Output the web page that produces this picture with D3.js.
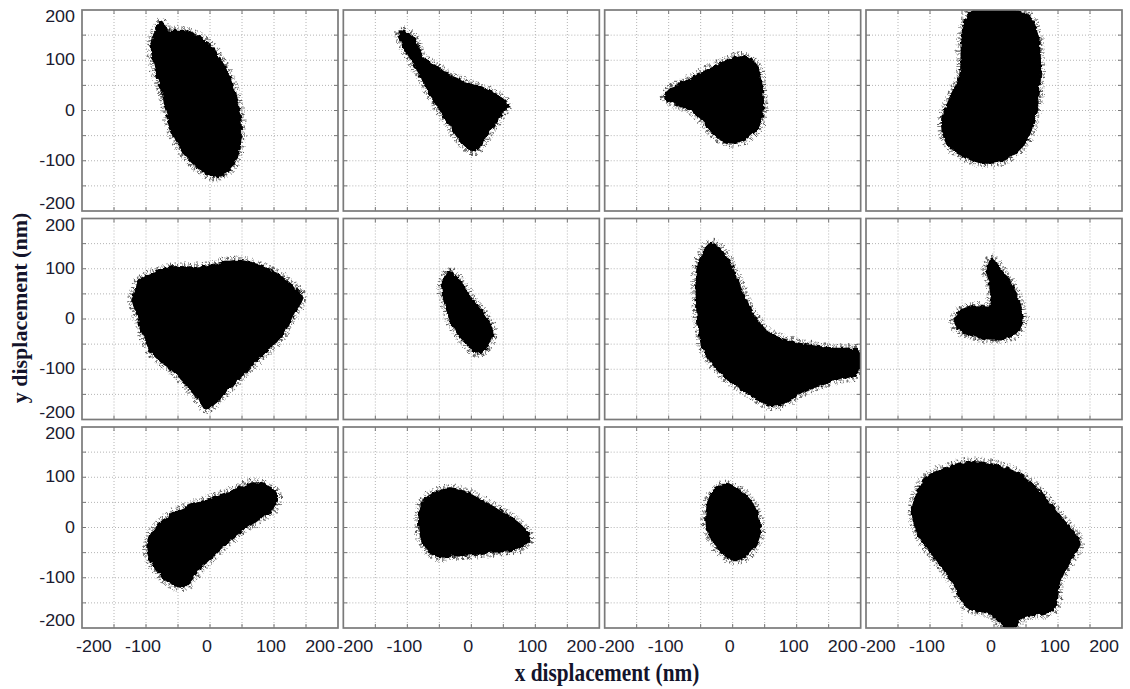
<!DOCTYPE html>
<html>
<head>
<meta charset="utf-8">
<script src="https://cdn.jsdelivr.net/npm/d3@7"></script>
<style>
	body { margin: 0; background: #fff; }
	svg { display: block; }
	.tick-label { font-family: "Liberation Sans", Arial, sans-serif; font-size: 16px; fill: #1b1b2f; }
	.axis-title { font-family: "Liberation Serif", "Times New Roman", serif; font-weight: bold; fill: #14142b; }
</style>
</head>
<body>
<svg id="chart" width="1130" height="689"></svg>
<script>
// axis values (nm)
const domain = [-200, 200];
const tickValues = [-200, -100, 0, 100, 200];
const gridValues = [-150, -100, -50, 0, 50, 100, 150];

// outlines of the twelve trajectory clouds, [x nm, y nm]
const trace1 = [[-75, 175], [-91, 137], [-86, 88], [-73, 28], [-58, -48], [-36, -92], [5, -131], [31, -117],
	[47, -64], [47, -12], [36, 48], [19, 95], [-5, 135], [-36, 157], [-67, 161]];
const trace2 = [[-112, 157], [-92, 147], [-77, 108], [-50, 82], [-14, 58], [28, 38], [56, 12], [44, -12],
	[23, -52], [5, -81], [-14, -64], [-39, -18], [-66, 36], [-92, 98], [-109, 137]];
const trace3 = [[-106, 28], [-98, 42], [-72, 58], [-52, 72], [-20, 92], [16, 108], [37, 88], [45, 48],
	[47, -4], [37, -38], [6, -64], [-25, -52], [-47, -18], [-67, 2], [-94, 16]];
const trace4 = [[-37, 195], [51, 191], [67, 155], [72, 88], [67, 8], [51, -58], [25, -92], [-3, -104],
	[-42, -94], [-73, -64], [-81, -18], [-69, 22], [-53, 68], [-50, 135], [-45, 175]];
const trace5 = [[-109, 77], [-83, 93], [-58, 103], [-16, 103], [47, 116], [89, 100], [125, 70], [144, 43],
	[130, 11], [114, -29], [78, -76], [42, -122], [16, -156], [-5, -178], [-20, -156], [-52, -109],
	[-89, -69], [-105, -29], [-114, 11], [-120, 37]];
const trace6 = [[-34, 93], [-19, 77], [2, 37], [23, 3], [33, -29], [23, -59], [9, -67], [-8, -49],
	[-27, -17], [-39, 23], [-45, 70]];
const trace7 = [[-33, 150], [-8, 120], [11, 67], [30, 13], [58, -29], [105, -49], [159, -59], [195, -63],
	[195, -106], [159, -122], [113, -142], [66, -172], [23, -146], [-20, -106], [-47, -53], [-56, 37], [-53, 112]];
const trace8 = [[-3, 120], [9, 100], [28, 67], [41, 27], [44, -7], [28, -33], [-6, -39], [-38, -31],
	[-61, -13], [-56, 13], [-30, 25], [-6, 25], [-6, 67], [-11, 100]];
const trace9 = [[75, 88], [104, 66], [100, 40], [78, 18], [47, -8], [16, -42], [-16, -82], [-42, -118],
	[-67, -106], [-86, -80], [-98, -39], [-83, 1], [-58, 27], [-16, 50], [30, 70]];
const trace10 = [[-73, 55], [-42, 75], [-11, 71], [28, 45], [67, 15], [91, -19], [75, -41], [28, -49],
	[-19, -55], [-58, -55], [-77, -25], [-81, 25]];
const trace11 = [[-13, 85], [19, 65], [39, 25], [42, -15], [23, -55], [3, -65], [-20, -45], [-39, -5],
	[-39, 45], [-28, 75]];
const trace12 = [[-105, 100], [-69, 120], [-33, 130], [14, 120], [52, 95], [83, 55], [108, 15], [134, -31],
	[119, -65], [103, -104], [92, -164], [45, -178], [30, -200], [20, -200], [-6, -172], [-42, -158],
	[-64, -110], [-89, -65], [-116, -19], [-127, 29], [-120, 69]];

const traces = [trace1, trace2, trace3, trace4, trace5, trace6, trace7, trace8, trace9, trace10, trace11, trace12];

const nCols = 4;
const nRows = 3;
const panelW = 256;
const panelH = 201;

const colScale = d3.scaleLinear().domain([0, nCols - 1]).range([82, 866]);
const rowScale = d3.scaleLinear().domain([0, nRows - 1]).range([10, 427]);

const svg = d3.select('#chart');
const defs = svg.append('defs');

// wobbly edge for the filled cloud and its fringe of stray steps
function addRoughFilter(id, freq, scale, seed) {
	const f = defs.append('filter')
		.attr('id', id)
		.attr('x', '-20%').attr('y', '-20%')
		.attr('width', '140%').attr('height', '140%');
	f.append('feTurbulence')
		.attr('type', 'fractalNoise')
		.attr('baseFrequency', freq)
		.attr('numOctaves', 2)
		.attr('seed', seed)
		.attr('result', 'noise');
	f.append('feDisplacementMap')
		.attr('in', 'SourceGraphic')
		.attr('in2', 'noise')
		.attr('scale', scale)
		.attr('xChannelSelector', 'R')
		.attr('yChannelSelector', 'G');
}
addRoughFilter('rough', 0.2, 5, 3);
addRoughFilter('fringe', 0.35, 5, 11);

traces.forEach((trace, i) => {
	const col = i % nCols;
	const row = Math.floor(i / nCols);
	const left = colScale(col);
	const top = rowScale(row);

	const x = d3.scaleLinear().domain(domain).range([0, panelW]);
	const y = d3.scaleLinear().domain(domain).range([panelH, 0]);

	const g = svg.append('g').attr('transform', `translate(${left},${top})`);

	defs.append('clipPath').attr('id', `clip${i}`)
		.append('rect').attr('width', panelW).attr('height', panelH);

	// dotted grid
	g.append('g').selectAll('line')
		.data(gridValues)
		.join('line')
		.attr('x1', d => x(d)).attr('x2', d => x(d))
		.attr('y1', 0).attr('y2', panelH)
		.attr('stroke', '#b4b4b4').attr('stroke-width', 1).attr('stroke-dasharray', '1,2');
	g.append('g').selectAll('line')
		.data(gridValues)
		.join('line')
		.attr('y1', d => y(d)).attr('y2', d => y(d))
		.attr('x1', 0).attr('x2', panelW)
		.attr('stroke', '#b4b4b4').attr('stroke-width', 1).attr('stroke-dasharray', '1,2');

	// inner ticks on all sides
	const ticks = g.append('g').attr('stroke', '#777').attr('stroke-width', 1);
	gridValues.forEach(v => {
		ticks.append('line').attr('x1', x(v)).attr('x2', x(v)).attr('y1', panelH).attr('y2', panelH - 4);
		ticks.append('line').attr('x1', x(v)).attr('x2', x(v)).attr('y1', 0).attr('y2', 4);
		ticks.append('line').attr('y1', y(v)).attr('y2', y(v)).attr('x1', 0).attr('x2', 4);
		ticks.append('line').attr('y1', y(v)).attr('y2', y(v)).attr('x1', panelW).attr('x2', panelW - 4);
	});

	const line = d3.line()
		.x(d => x(d[0]))
		.y(d => y(d[1]))
		.curve(d3.curveCatmullRomClosed.alpha(0.5));

	const cloud = g.append('g').attr('clip-path', `url(#clip${i})`);
	cloud.append('path')
		.attr('d', line(trace))
		.attr('fill', 'none')
		.attr('stroke', '#1a1a1a')
		.attr('stroke-width', 10)
		.attr('stroke-opacity', 0.7)
		.attr('stroke-dasharray', '0.7,1.8,1.2,2.7,0.6,1.5,1,3.2')
		.attr('filter', 'url(#fringe)');
	cloud.append('path')
		.attr('d', line(trace))
		.attr('fill', '#000')
		.attr('stroke', '#000')
		.attr('stroke-width', 2)
		.attr('filter', 'url(#rough)');

	// frame
	g.append('rect')
		.attr('width', panelW).attr('height', panelH)
		.attr('fill', 'none')
		.attr('stroke', '#7a7a7a')
		.attr('stroke-width', 1.7);

	if (col === 0) {
		g.append('g').selectAll('text')
			.data(tickValues)
			.join('text')
			.attr('class', 'tick-label')
			.attr('text-anchor', 'end')
			.attr('dominant-baseline', 'central')
			.attr('transform', d => {
				const yy = d === 200 ? y(d) + 7 : d === -200 ? y(d) - 7 : y(d);
				return `translate(-7,${yy}) scale(1.12,1)`;
			})
			.text(d => d);
	}

	if (row === nRows - 1) {
		g.append('g').selectAll('text')
			.data(tickValues)
			.join('text')
			.attr('class', 'tick-label')
			.attr('text-anchor', d => d === -200 ? 'start' : d === 200 ? 'end' : 'middle')
			.attr('transform', d => {
				const xx = d === -200 ? x(d) - 6 : d === 200 ? x(d) - 3 : x(d) - 3;
				return `translate(${xx},${panelH + 24}) scale(1.12,1)`;
			})
			.text(d => d);
	}
});

svg.append('text')
	.attr('class', 'axis-title')
	.attr('text-anchor', 'middle')
	.attr('font-size', 26)
	.attr('transform', 'translate(607,681) scale(0.82,1)')
	.text('x displacement (nm)');

svg.append('text')
	.attr('class', 'axis-title')
	.attr('text-anchor', 'middle')
	.attr('font-size', 22)
	.attr('transform', 'translate(27,308) rotate(-90)')
	.text('y displacement (nm)');
</script>
</body>
</html>
